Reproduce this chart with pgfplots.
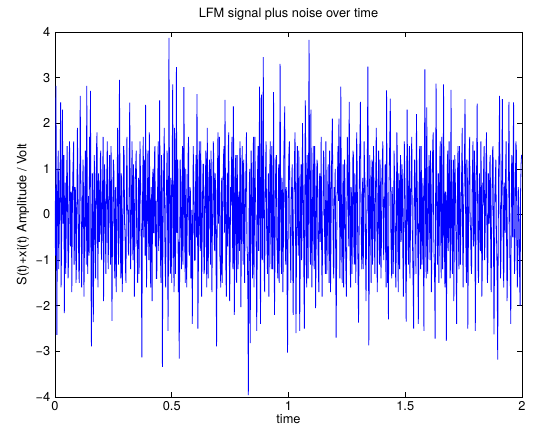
\documentclass[border=0pt]{standalone}
\usepackage{fontspec}
\setmainfont{TeX Gyre Heros}
\usepackage{pgfplots}
\usepackage{pgfplotstable}
\pgfplotsset{compat=1.18}

% one sample every 0.002 s, 1001 samples
\pgfplotstableread[row sep=\\,header=false]{
0.3\\ -0.9\\ 2.82\\ 0.4\\ -2.64\\ -0.3\\ 0.9\\ 1.4\\ -1.2\\ -0.5\\ 0.4\\ 1.1\\ 2.46\\ -1.6\\ -0.8\\ 0.7\\ 2.3\\ -0.2\\ 0.1\\ 1.3\\
-2.16\\ -0.4\\ 0.7\\ -1.3\\ -0.3\\ 0.9\\ 1.5\\ 0.2\\ -1.4\\ -1.0\\ 0.2\\ 1.6\\ 1.1\\ -0.7\\ -0.6\\ 0.5\\ -1.7\\ -0.1\\ 0.8\\ 1.2\\
1.6\\ -1.1\\ -0.4\\ 0.6\\ 0.5\\ -1.5\\ -1.1\\ 0.3\\ 1.9\\ 0.8\\ -0.2\\ -1.2\\ -1.5\\ 0.4\\ 2.6\\ 1.0\\ 0.3\\ -1.6\\ -0.9\\ 0.2\\
1.2\\ 0.5\\ -1.8\\ -0.8\\ 0.6\\ 1.4\\ -0.1\\ -1.1\\ 2.82\\ 0.7\\ -1.3\\ 0.1\\ 0.4\\ -0.9\\ 1.7\\ 0.6\\ 2.71\\ -1.2\\ -2.89\\ -0.6\\
0.9\\ 0.2\\ -2.36\\ -1.0\\ 1.3\\ 0.8\\ -0.7\\ -1.4\\ 0.2\\ 1.5\\ 1.8\\ -0.3\\ -1.6\\ 0.9\\ 0.5\\ -0.6\\ -0.3\\ 1.2\\ 1.4\\ -0.8\\
-1.0\\ 0.3\\ 0.7\\ 1.7\\ -1.9\\ -0.5\\ 1.1\\ 0.6\\ -0.5\\ -1.3\\ 0.3\\ 0.9\\ 1.6\\ -0.4\\ -1.2\\ 0.1\\ 0.8\\ 1.3\\ -0.2\\ -1.1\\
1.5\\ 0.4\\ -2.33\\ -0.6\\ 0.4\\ 1.2\\ 1.0\\ -0.8\\ -1.4\\ 0.5\\ 0.6\\ -1.7\\ -0.8\\ 0.2\\ 1.9\\ 0.9\\ -1.1\\ -0.3\\ 2.95\\ 1.1\\
-0.6\\ -1.4\\ 0.9\\ 0.3\\ -1.7\\ -0.9\\ 0.2\\ 1.5\\ 1.3\\ -0.2\\ -0.4\\ -1.2\\ -1.5\\ 0.6\\ 1.7\\ 0.1\\ 0.1\\ -0.8\\ -0.9\\ 1.0\\
2.45\\ 0.7\\ -1.2\\ -0.5\\ 0.5\\ 1.6\\ -0.3\\ -1.0\\ 1.1\\ 0.2\\ -1.8\\ -0.7\\ 0.8\\ 1.1\\ 1.4\\ -0.6\\ -0.7\\ -1.5\\ 0.3\\ 0.8\\
-1.3\\ 0.2\\ 1.6\\ 0.9\\ 0.2\\ -1.2\\ -3.13\\ -0.4\\ 0.9\\ 1.7\\ -0.5\\ 0.4\\ 1.2\\ -0.9\\ 2.4\\ 0.6\\ -1.6\\ -0.3\\ 0.4\\ 1.4\\
-0.2\\ -1.0\\ 1.8\\ 0.5\\ -1.1\\ -1.6\\ 0.6\\ 0.1\\ -1.9\\ 0.8\\ 1.0\\ -0.4\\ -0.4\\ 1.3\\ 1.5\\ -0.7\\ 0.3\\ -1.4\\ -1.4\\ 0.2\\
0.7\\ 1.6\\ -0.8\\ -0.2\\ 2.5\\ 0.6\\ -1.0\\ -1.5\\ 1.3\\ 0.9\\ -3.34\\ -0.8\\ 0.5\\ 1.2\\ 1.9\\ -0.3\\ -1.2\\ -1.6\\ 0.2\\ 0.7\\
1.4\\ 0.3\\ -2.55\\ -0.9\\ 3.87\\ 1.1\\ -0.6\\ -1.3\\ 0.8\\ 0.2\\ -1.5\\ 1.0\\ 2.85\\ 0.4\\ -0.9\\ -1.7\\ 1.9\\ 0.8\\ -1.3\\ 0.5\\
3.23\\ -0.4\\ 0.1\\ 1.2\\ -1.7\\ -0.6\\ -3.16\\ -1.1\\ 1.2\\ 0.7\\ -0.4\\ -1.2\\ 0.6\\ 1.5\\ -1.1\\ 0.2\\ 2.79\\ 1.0\\ -0.7\\ -1.5\\
1.0\\ 0.4\\ -1.6\\ -0.3\\ 0.3\\ 1.3\\ 1.7\\ -0.8\\ -0.9\\ 0.6\\ 0.5\\ -1.4\\ -1.3\\ 0.1\\ -2.4\\ -0.9\\ 1.5\\ 0.8\\ 0.2\\ -1.0\\
-1.0\\ 0.6\\ 1.3\\ -0.5\\ 2.64\\ 0.9\\ -2.5\\ -1.2\\ 0.7\\ 1.6\\ -0.3\\ -0.8\\ 1.6\\ 0.3\\ -1.8\\ -0.6\\ 0.4\\ 1.1\\ 1.1\\ -1.3\\
-1.2\\ 0.2\\ 0.6\\ 1.4\\ -0.5\\ -1.6\\ 1.9\\ 0.5\\ -1.4\\ -0.2\\ 0.9\\ 1.2\\ -0.1\\ -1.1\\ 1.4\\ 0.7\\ -1.7\\ -0.4\\ 0.3\\ 1.6\\
1.2\\ -0.6\\ -0.8\\ 0.9\\ 0.5\\ -1.2\\ -2.89\\ -0.7\\ 1.0\\ 1.8\\ -0.2\\ 0.3\\ 1.7\\ -0.9\\ -1.1\\ -1.6\\ 0.4\\ 0.8\\ -1.5\\ -0.3\\
0.8\\ 1.3\\ 1.5\\ -0.4\\ 2.51\\ 0.6\\ -1.3\\ -1.8\\ 0.2\\ 0.9\\ -0.7\\ 1.4\\ 1.8\\ -0.5\\ -1.9\\ -1.0\\ 0.6\\ 0.2\\ 1.1\\ 1.7\\
-0.4\\ -1.2\\ 2.37\\ 0.8\\ -2.2\\ -0.9\\ 0.9\\ 1.3\\ -0.6\\ -1.5\\ 1.3\\ 0.4\\ -1.2\\ 0.1\\ 0.5\\ -0.8\\ 1.6\\ 1.2\\ -2.03\\ -0.7\\
0.7\\ 1.5\\ -0.3\\ -1.1\\ 1.2\\ 0.5\\ -1.5\\ -0.2\\ 0.4\\ 1.1\\ 1.8\\ -0.6\\ -0.9\\ -1.7\\ -3.96\\ -1.2\\ 0.6\\ 1.0\\ -2.82\\ -0.5\\
1.4\\ 0.8\\ -0.5\\ -1.4\\ 0.9\\ 1.7\\ -1.6\\ -0.3\\ 1.7\\ 0.6\\ 0.1\\ -1.0\\ -2.55\\ -0.8\\ 1.1\\ 1.5\\ -0.8\\ 0.3\\ 2.8\\ 0.9\\
-2.4\\ -0.6\\ 2.63\\ 1.2\\ -1.0\\ 0.7\\ 3.45\\ 0.5\\ -1.3\\ -1.7\\ 0.5\\ 1.0\\ 1.6\\ -0.2\\ -0.7\\ -1.3\\ 0.3\\ 0.9\\ -1.8\\ -0.4\\
1.0\\ 1.6\\ -0.4\\ -1.2\\ 1.5\\ 0.3\\ -1.2\\ -0.6\\ 2.68\\ 0.4\\ -2.2\\ -1.0\\ 0.6\\ 1.2\\ 1.3\\ -0.5\\ -0.9\\ -1.4\\ 0.2\\ 1.1\\
-1.5\\ 0.2\\ 3.3\\ 1.0\\ -0.6\\ -1.3\\ 0.8\\ 0.5\\ -1.7\\ -0.7\\ 1.2\\ 1.8\\ 2.37\\ -0.3\\ -1.1\\ 0.6\\ 0.4\\ -1.6\\ -3.03\\ -0.8\\
0.9\\ 1.4\\ 1.6\\ -0.2\\ -0.8\\ -1.5\\ 0.3\\ 0.7\\ 1.1\\ -0.9\\ -2.2\\ -0.4\\ 0.5\\ 1.3\\ 1.8\\ 0.2\\ -2.6\\ -1.1\\ 0.7\\ 1.5\\
-0.2\\ -0.9\\ 1.4\\ 0.6\\ -2.55\\ -1.2\\ 0.6\\ 1.1\\ -1.0\\ -0.3\\ 2.0\\ 0.8\\ 0.2\\ -1.4\\ -2.5\\ 0.4\\ 2.5\\ 1.2\\ -0.9\\ -1.6\\
1.3\\ 0.5\\ -1.4\\ 0.9\\ 3.83\\ 1.3\\ -0.5\\ -1.1\\ 2.3\\ 0.2\\ -1.6\\ -0.7\\ 0.8\\ 1.5\\ -0.3\\ -1.2\\ 1.5\\ 0.6\\ -2.05\\ -0.9\\
0.4\\ 1.2\\ 1.1\\ -0.6\\ -1.2\\ -1.7\\ 0.7\\ 0.9\\ -0.6\\ 0.3\\ 1.7\\ -0.8\\ -1.8\\ -0.4\\ 0.3\\ 1.4\\ 1.2\\ -0.2\\ -0.9\\ -1.3\\
1.6\\ 0.4\\ -1.3\\ -0.7\\ 0.5\\ 1.1\\ -0.2\\ -1.5\\ 1.4\\ 0.8\\ -1.7\\ -0.5\\ 0.9\\ 1.6\\ 2.1\\ 0.3\\ -1.1\\ -1.4\\ 0.6\\ 0.2\\
1.0\\ -0.8\\ -2.7\\ -1.2\\ 0.4\\ 0.9\\ 1.5\\ 0.3\\ 2.1\\ 1.0\\ -1.4\\ -0.6\\ 2.8\\ 0.7\\ -0.8\\ -1.5\\ 0.3\\ 1.1\\ -1.6\\ -0.4\\
1.2\\ 0.6\\ -0.5\\ -1.3\\ -1.8\\ 0.2\\ 1.7\\ 1.0\\ 0.2\\ -0.7\\ 2.47\\ 0.9\\ -1.0\\ -1.6\\ 0.6\\ 0.4\\ -1.3\\ -0.2\\ 1.4\\ 1.3\\
-0.7\\ -1.1\\ 0.9\\ 0.5\\ -1.5\\ -0.4\\ 1.8\\ 1.1\\ -0.3\\ -1.4\\ -2.37\\ -0.8\\ 1.1\\ 1.6\\ 2.47\\ 0.3\\ -0.6\\ -1.2\\ 0.4\\ 0.8\\
-1.2\\ -0.3\\ 1.6\\ 0.9\\ 0.7\\ -0.9\\ -1.9\\ -0.6\\ 0.2\\ 1.5\\ 3.24\\ 0.4\\ -2.87\\ -1.0\\ 1.3\\ 0.7\\ -0.4\\ -1.5\\ 0.8\\ 1.2\\
-1.1\\ -0.2\\ 1.5\\ 0.6\\ -0.6\\ -1.3\\ 0.3\\ 1.0\\ 1.9\\ 0.2\\ -1.7\\ -0.9\\ 0.5\\ 1.4\\ -0.2\\ -1.1\\ 1.2\\ 0.5\\ -1.4\\ -0.6\\
0.8\\ 1.2\\ 1.6\\ -0.5\\ -1.0\\ 0.3\\ 0.4\\ 1.1\\ -0.8\\ -1.6\\ 2.72\\ 0.8\\ -1.5\\ -0.7\\ -2.3\\ 0.5\\ 1.1\\ 1.7\\ 2.54\\ -0.2\\
-0.9\\ -1.4\\ 0.6\\ 0.2\\ -1.3\\ -0.8\\ 1.4\\ 0.9\\ 0.1\\ -1.2\\ -1.6\\ -0.3\\ 1.8\\ 1.3\\ -0.5\\ -1.7\\ 0.9\\ 0.4\\ -1.2\\ 0.7\\
1.3\\ -0.6\\ -0.3\\ 1.1\\ 0.7\\ -1.0\\ -1.8\\ -0.4\\ 1.6\\ 0.9\\ 0.2\\ -1.3\\ -2.35\\ 0.1\\ 2.3\\ 0.8\\ -0.7\\ -1.1\\ 1.0\\ 1.5\\
-1.4\\ -0.5\\ 0.5\\ 1.2\\ 1.7\\ -0.2\\ -0.9\\ -1.6\\ -2.5\\ 0.3\\ 1.2\\ 0.7\\ -0.4\\ -1.3\\ 2.2\\ 1.0\\ 0.3\\ -0.8\\ -2.4\\ -0.6\\
1.1\\ 1.5\\ -0.6\\ -1.2\\ 1.5\\ 0.4\\ -1.1\\ 0.2\\ 0.8\\ -0.9\\ -2.55\\ 0.6\\ 3.18\\ 1.1\\ -0.8\\ -1.4\\ 2.35\\ 0.7\\ -1.3\\ -0.5\\
0.6\\ 1.3\\ -0.2\\ -1.0\\ 1.4\\ 0.5\\ -1.7\\ -0.8\\ 0.9\\ 1.6\\ 1.8\\ -0.4\\ -1.0\\ -1.5\\ -2.72\\ 0.2\\ 2.87\\ 1.2\\ -0.5\\ -1.1\\
0.4\\ 0.9\\ -1.5\\ -0.3\\ 1.2\\ 1.6\\ -0.3\\ -1.4\\ 1.7\\ 0.1\\ -1.2\\ -0.7\\ 2.85\\ 0.8\\ -0.7\\ -1.6\\ 0.5\\ 0.3\\ -2.77\\ -0.9\\
1.0\\ 1.4\\ -0.8\\ -0.2\\ 1.6\\ 0.7\\ -1.4\\ -1.1\\ 2.73\\ 0.6\\ -0.4\\ -1.3\\ 0.7\\ 1.2\\ -1.9\\ -0.5\\ 1.3\\ 0.9\\ 0.2\\ -1.0\\
-2.4\\ -0.6\\ 0.9\\ 1.5\\ -0.6\\ -1.2\\ 1.5\\ 0.4\\ -1.1\\ -0.3\\ 0.3\\ 1.1\\ 1.9\\ -0.7\\ -1.6\\ 0.2\\ 0.6\\ 1.3\\ 2.53\\ 0.5\\
-0.9\\ -1.5\\ 1.2\\ 0.8\\ -2.5\\ -0.9\\ 0.5\\ 1.3\\ 1.7\\ -0.2\\ -0.3\\ -1.1\\ -1.3\\ 0.4\\ 1.0\\ 1.6\\ -0.7\\ -0.4\\ 1.4\\ 0.9\\
-2.55\\ -1.0\\ 0.8\\ 1.1\\ 2.43\\ 0.3\\ -1.2\\ -1.5\\ 0.4\\ 0.9\\ -0.5\\ -0.8\\ 1.6\\ 0.6\\ -1.8\\ -1.2\\ 0.7\\ 0.2\\ 1.1\\ 1.5\\
-1.0\\ -0.4\\ 0.3\\ 1.2\\ 1.8\\ -0.6\\ -1.5\\ -1.0\\ 0.9\\ 0.4\\ -0.2\\ 1.1\\ 1.3\\ -0.8\\ -1.7\\ -0.3\\ 0.6\\ 1.4\\ 1.5\\ -0.5\\
-2.63\\ -1.3\\ 0.5\\ 0.8\\ 1.2\\ -0.2\\ -0.8\\ -1.6\\ -3.18\\ -0.7\\ 1.0\\ 1.5\\ 2.6\\ 0.4\\ -1.4\\ -0.9\\ 0.4\\ 1.2\\ 2.53\\ 0.6\\
-1.1\\ -1.6\\ 0.7\\ 0.3\\ -0.4\\ 1.0\\ 1.6\\ -0.5\\ -1.9\\ -1.2\\ 0.2\\ 0.9\\ 2.47\\ 0.8\\ -0.9\\ -1.4\\ -2.4\\ 0.1\\ 1.3\\ 0.7\\
-0.5\\ 1.2\\ 2.46\\ -0.3\\ -1.3\\ -0.9\\ 0.8\\ 1.6\\ 1.4\\ -0.6\\ -1.6\\ -1.1\\ 0.6\\ 0.3\\ -0.2\\ -1.4\\ -2.0\\ 0.5\\ 1.1\\ 1.3\\
1.3\\
}\signal

\begin{document}
\begin{tikzpicture}
\useasboundingbox (-41.25pt,-27.75pt) rectangle (358.5pt,297.75pt);
\begin{axis}[
  at={(0,0)}, anchor=south west,
  scale only axis, width=350.25pt, height=273.75pt,
  xmin=0, xmax=2, ymin=-4, ymax=4,
  xtick={0,0.5,1,1.5,2}, xticklabels={0,0.5,1,1.5,2},
  ytick={-4,-3,-2,-1,0,1,2,3,4},
  yticklabels={−4,−3,−2,−1,0,1,2,3,4},
  tick align=inside, major tick length=3.75pt,
  xtick pos=both, ytick pos=both,
  axis line style={line width=0.5pt}, every tick/.style={black,line width=0.5pt},
  font=\fontsize{9.6}{11}\selectfont,
  tick label style={font=\fontsize{9.6}{11}\selectfont},
  title={LFM signal plus noise over time},
  title style={yshift=-1pt},
  xlabel={time}, ylabel={S(t)+xi(t) Amplitude / Volt},
  xlabel style={yshift=4pt}, ylabel style={yshift=-2pt},
]
\addplot[blue, line width=0.6pt] table[x expr=\coordindex*0.002, y index=0] {\signal};
\end{axis}
\end{tikzpicture}
\end{document}
